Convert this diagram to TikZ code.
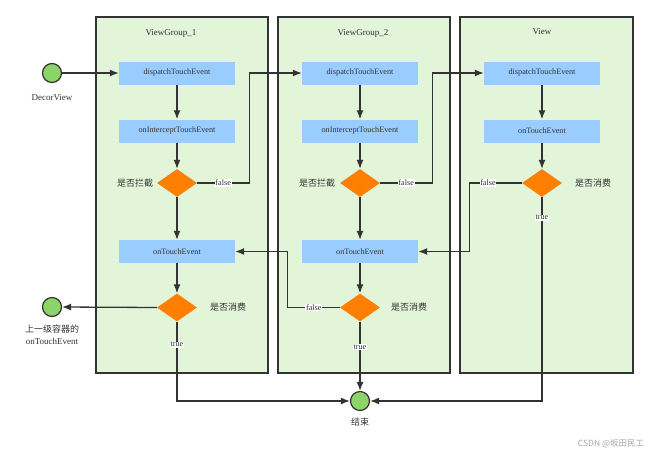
\documentclass[tikz,border=0pt]{standalone}
\usepackage{fontspec}
\setmainfont{Liberation Serif}
\newfontfamily\cjk{Noto Sans CJK SC}
\usetikzlibrary{arrows.meta,shapes.geometric}

\definecolor{lanegreen}{HTML}{E3F5D9}
\definecolor{boxblue}{HTML}{99CCFF}
\definecolor{askorange}{HTML}{FF8000}
\definecolor{dotgreen}{HTML}{8CD468}
\definecolor{ink}{HTML}{333333}

\tikzset{
  lane/.style={draw=ink,fill=lanegreen,line width=1.3pt},
  method/.style={fill=boxblue,minimum width=116pt,minimum height=23pt,inner sep=0pt,
    font=\fontsize{8.2}{9}\selectfont,text=ink},
  choice/.style={diamond,fill=askorange,minimum width=40pt,minimum height=28pt,inner sep=0pt},
  endpoint/.style={circle,draw=ink,fill=dotgreen,line width=1.2pt,minimum size=19pt,inner sep=0pt},
  flow/.style={draw=ink,line width=1.3pt,-{Latex[length=9pt,width=7pt]}},
  flag/.style={fill=white,inner sep=0.6pt,font=\fontsize{8.2}{9}\selectfont,text=ink},
  caption/.style={font=\fontsize{9}{12}\selectfont,text=ink},
  question/.style={font=\cjk\fontsize{9}{11}\selectfont,text=ink},
}

\begin{document}
\begin{tikzpicture}[x=1pt,y=-1pt]
   \useasboundingbox (0,0) rectangle (650,453);
   % lanes
   \draw[lane] (96,17) rectangle (268,373);
   \draw[lane] (278,17) rectangle (450,373);
   \draw[lane] (460,17) rectangle (633,373);
   \node[caption] (title1) at (171,33) {ViewGroup\_1};
   \node[caption] (title2) at (363,33) {ViewGroup\_2};
   \node[caption] (title3) at (542,32) {View};
   % ViewGroup_1
   \node[method] (dp1) at (177,73) {dispatchTouchEvent};
   \node[method] (ic1) at (177,131) {onInterceptTouchEvent};
   \node[choice] (ic1d) at (177,183) {};
   \node[method] (ot1) at (177,251.5) {onTouchEvent};
   \node[choice] (ot1d) at (177,307.5) {};
   \node[question] (ic1q) at (135,183) {是否拦截};
   \node[question] (ot1q) at (228,307) {是否消费};
   % ViewGroup_2
   \node[method] (dp2) at (360,73) {dispatchTouchEvent};
   \node[method] (ic2) at (360,131) {onInterceptTouchEvent};
   \node[choice] (ic2d) at (360,183) {};
   \node[method] (ot2) at (360,251.5) {onTouchEvent};
   \node[choice] (ot2d) at (360,307.5) {};
   \node[question] (ic2q) at (317,183) {是否拦截};
   \node[question] (ot2q) at (409,307) {是否消费};
   % View
   \node[method] (dp3) at (542,73) {dispatchTouchEvent};
   \node[method] (ot3) at (542,131) {onTouchEvent};
   \node[choice] (ot3d) at (542,183) {};
   \node[question] (ot3q) at (593,183) {是否消费};
   % end points
   \node[endpoint] (decor) at (52,73) {};
   \node[caption] (decorl) at (52,98) {DecorView};
   \node[endpoint] (upper) at (52,307) {};
   \node[caption,align=center] (upperl) at (52,335) {{\cjk 上一级容器的}\\onTouchEvent};
   \node[endpoint] (done) at (360,401) {};
   \node[question] (donel) at (360,422) {结束};
   % connectors
   \draw[flow] (decor) -- (dp1);
   \draw[flow] (dp1) -- (ic1);
   \draw[flow] (ic1) -- (ic1d);
   \draw[flow] (ic1d) -- (ot1);
   \draw[flow] (ot1) -- (ot1d);
   \draw[flow] (ic1d.east) -- node[flag]{false} ++(52,0) |- (dp2.west);
   \draw[flow] (ot1d.west) -- (upper.east);
   \draw[flow] (ot1d.south) |- node[flag,pos=0.145]{true} (done.west);
   \draw[flow] (dp2) -- (ic2);
   \draw[flow] (ic2) -- (ic2d);
   \draw[flow] (ic2d) -- (ot2);
   \draw[flow] (ot2) -- (ot2d);
   \draw[flow] (ic2d.east) -- node[flag]{false} ++(52,0) |- (dp3.west);
   \draw[flow] (ot2d.west) -- node[flag]{false} ++(-52,0) |- (ot1.east);
   \draw[flow] (ot2d.south) -- node[flag,pos=0.37]{true} (done.north);
   \draw[flow] (dp3) -- (ot3);
   \draw[flow] (ot3) -- (ot3d);
   \draw[flow] (ot3d.west) -- node[flag,pos=0.65]{false} ++(-52,0) |- (ot2.east);
   \draw[flow] (ot3d.south) |- node[flag,pos=0.05]{true} (done.east);
   % mark
   \node[font=\cjk\fontsize{8.5}{10}\selectfont,text=black!35] (mark) at (611,444) {CSDN @坂田民工};
\end{tikzpicture}
\end{document}
